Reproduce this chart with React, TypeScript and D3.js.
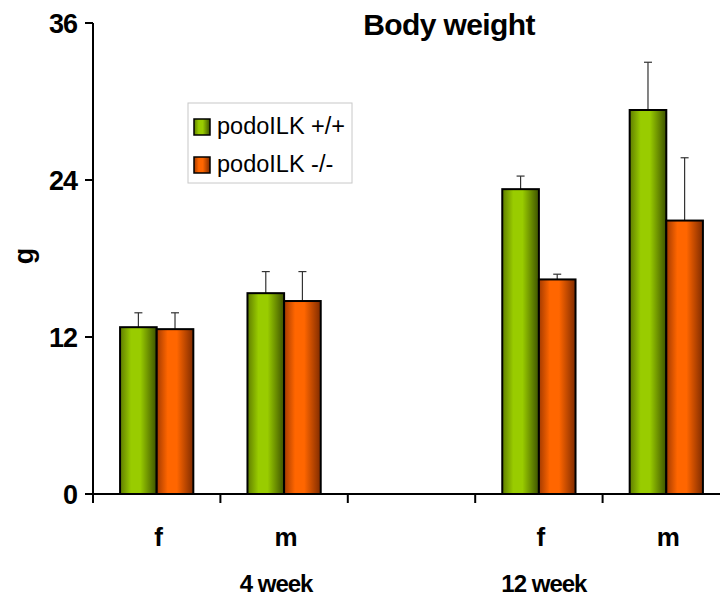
import React from "react";
import * as d3 from "d3";

// Body weight (g) per group; the middle slot is an empty spacer between ages
const slots = ["4w-f", "4w-m", "gap", "12w-f", "12w-m"];
const sexLabels = ["f", "m", "", "f", "m"];
const ageLabels = ["4 week", "12 week"];
const seriesNames = ["podoILK +/+", "podoILK -/-"];
const wildType = [12.75, 15.35, null, 23.3, 29.35];
const knockOut = [12.6, 14.75, null, 16.4, 20.9];
const wildTypeErr = [1.1, 1.65, null, 1.0, 3.65];
const knockOutErr = [1.25, 2.25, null, 0.4, 4.8];
const yTicks = [0, 12, 24, 36];

const W = 720;
const H = 599;
const FONT = "Liberation Sans, Arial, Helvetica, sans-serif";

export default function App() {
  const x = d3.scaleBand<string>().domain(slots).range([93, 730]).paddingInner(0).paddingOuter(0);
  const y = d3.scaleLinear().domain([0, 36]).range([494, 23]);
  const groupW = x.bandwidth() * 0.575;
  const inner = d3
    .scaleBand<string>()
    .domain(["wt", "ko"])
    .range([0, groupW]);
  const offset = (x.bandwidth() - groupW) / 2;

  const series = [
    { key: "wt", values: wildType, errs: wildTypeErr, fill: "url(#gGreen)" },
    { key: "ko", values: knockOut, errs: knockOutErr, fill: "url(#gOrange)" },
  ];

  const x0 = y.range()[0];
  const xAxisLeft = x.range()[0];

  return (
    <div style={{ position: "absolute", left: 0, top: 0 }}>
      <svg width={W} height={H} style={{ display: "block", background: "#fff" }}>
        <defs>
          <linearGradient id="gGreen" x1="0" x2="1" y1="0" y2="0">
            <stop offset="0" stopColor="#5f7d00" />
            <stop offset="0.3" stopColor="#99cc00" />
            <stop offset="0.55" stopColor="#99cc00" />
            <stop offset="1" stopColor="#3d5200" />
          </linearGradient>
          <linearGradient id="gOrange" x1="0" x2="1" y1="0" y2="0">
            <stop offset="0" stopColor="#a33a00" />
            <stop offset="0.3" stopColor="#ff6600" />
            <stop offset="0.55" stopColor="#ff6600" />
            <stop offset="1" stopColor="#7f2b00" />
          </linearGradient>
        </defs>

        {/* title */}
        <text x={449} y={35} textAnchor="middle" fontFamily={FONT} fontWeight="bold" fontSize={30} letterSpacing={-0.6}>
          Body weight
        </text>

        {/* y axis label */}
        <text
          transform="translate(33,256) rotate(-90)"
          textAnchor="middle"
          fontFamily={FONT}
          fontWeight="bold"
          fontSize={27}
        >
          g
        </text>

        {/* bars with upward error bars */}
        {series.map((s) =>
          slots.map((slot, i) => {
            const v = s.values[i];
            const e = s.errs[i];
            if (v == null || e == null) return null;
            const bx = (x(slot) as number) + offset + (inner(s.key) as number);
            const bw = inner.bandwidth();
            const cx = bx + bw / 2;
            return (
              <g key={s.key + slot}>
                <line x1={cx} x2={cx} y1={y(v)} y2={y(v + e)} stroke="#333" strokeWidth={1.2} />
                <line x1={cx - 4} x2={cx + 4} y1={y(v + e)} y2={y(v + e)} stroke="#333" strokeWidth={1.2} />
                <rect x={bx} y={y(v)} width={bw} height={x0 - y(v)} fill={s.fill} stroke="#000" strokeWidth={2} />
              </g>
            );
          })
        )}

        {/* y axis */}
        <line x1={xAxisLeft} x2={xAxisLeft} y1={y(36)} y2={x0} stroke="#000" strokeWidth={2} />
        {yTicks.map((t) => (
          <g key={t}>
            <line x1={xAxisLeft - 8} x2={xAxisLeft} y1={y(t)} y2={y(t)} stroke="#000" strokeWidth={2} />
            <text
              x={xAxisLeft - 16}
              y={y(t)}
              dy="0.36em"
              textAnchor="end"
              fontFamily={FONT}
              fontWeight="bold"
              fontSize={27}
              letterSpacing={-1}
            >
              {t}
            </text>
          </g>
        ))}

        {/* x axis */}
        <line x1={xAxisLeft} x2={W} y1={x0} y2={x0} stroke="#000" strokeWidth={2} />
        {slots.map((slot) => (
          <line
            key={"t" + slot}
            x1={x(slot) as number}
            x2={x(slot) as number}
            y1={x0}
            y2={x0 + 9}
            stroke="#000"
            strokeWidth={2}
          />
        ))}
        {slots.map((slot, i) =>
          sexLabels[i] ? (
            <text
              key={"s" + slot}
              x={(x(slot) as number) + x.bandwidth() / 2 + 2}
              y={546}
              textAnchor="middle"
              fontFamily={FONT}
              fontWeight="bold"
              fontSize={26}
            >
              {sexLabels[i]}
            </text>
          ) : null
        )}
        <text
          x={(x("4w-m") as number) + x.bandwidth() / 2 - 8}
          y={592}
          textAnchor="middle"
          fontFamily={FONT}
          fontWeight="bold"
          fontSize={24}
          letterSpacing={-1}
        >
          {ageLabels[0]}
        </text>
        <text
          x={(x("12w-f") as number) + x.bandwidth() / 2 + 5}
          y={592}
          textAnchor="middle"
          fontFamily={FONT}
          fontWeight="bold"
          fontSize={24}
          letterSpacing={-1}
        >
          {ageLabels[1]}
        </text>

        {/* legend */}
        <g>
          <rect x={188} y={103} width={164} height={80} fill="#fff" stroke="#c8c8c8" strokeWidth={1} />
          {seriesNames.map((name, i) => (
            <g key={name} transform={`translate(194,${119 + i * 38})`}>
              <rect x={0} y={0} width={16} height={16} fill={i === 0 ? "url(#gGreen)" : "url(#gOrange)"} stroke="#000" strokeWidth={1.5} />
              <text x={23} y={15} fontFamily={FONT} fontSize={23.5}>
                {name}
              </text>
            </g>
          ))}
        </g>
      </svg>
    </div>
  );
}
